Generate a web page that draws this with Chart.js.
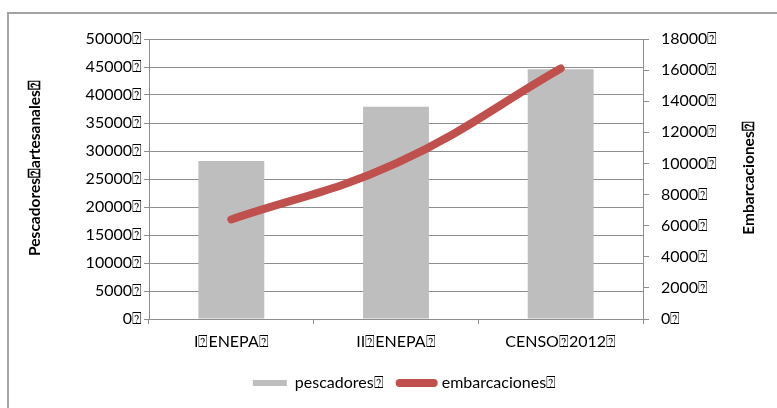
<!DOCTYPE html>
<html>
<head>
<meta charset="utf-8">
<script src="https://cdn.jsdelivr.net/npm/chart.js@4.4.1/dist/chart.umd.min.js"></script>
<style>
  body { margin: 0; background: #fff; overflow: hidden; }
  .wrap { position: relative; width: 777px; height: 408px; }
  .frame { position: absolute; left: 7px; top: 12px; width: 900px; height: 600px; border-top: 2px solid #a3a3a3; border-left: 2px solid #a3a3a3; }
  #chart_pesca { position: absolute; left: 0; top: 0; }
</style>
</head>
<body>
<div class="wrap">
  <div class="frame"></div>
  <canvas id="chart_pesca" width="777" height="408"></canvas>
</div>
<script>
const Q = '\u2370'
const categories = ['I' + Q + 'ENEPA' + Q, 'II' + Q + 'ENEPA' + Q, 'CENSO' + Q + '2012' + Q]
const pescadores = [28200, 37900, 44600]
const embarcaciones = [6400, 10000, 16100]
const leftTicks = [0, 5000, 10000, 15000, 20000, 25000, 30000, 35000, 40000, 45000, 50000]
const rightTicks = [0, 2000, 4000, 6000, 8000, 10000, 12000, 14000, 16000, 18000]
const leftTitle = 'Pescadores' + Q + 'artesanales' + Q
const rightTitle = 'Embarcaciones' + Q

const gridColor = '#8e8e8e'
const barColor = '#bebebe'
const lineColor = '#c0504d'

Chart.defaults.font.family = 'Lato'
Chart.defaults.color = '#000'

// both axis titles read bottom to top, chart.js flips the right one so draw them here
const axisTitles = {
  id: 'axisTitles',
  afterDraw: (chart) => {
    const c = chart.ctx
    const area = chart.chartArea
    const draw = (text, x, y) => {
      c.save()
      c.translate(x, y)
      c.rotate(-Math.PI / 2)
      c.font = 'bold 15.5px Lato'
      c.fillStyle = '#000'
      c.textAlign = 'center'
      c.textBaseline = 'middle'
      c.fillText(text, 0, 0)
      c.restore()
    }
    draw(leftTitle, area.left - 114, area.top + 129)
    draw(rightTitle, chart.scales.y1.right - 28, area.top + 139)
  }
}

const ctx = document.getElementById('chart_pesca')
new Chart(ctx, {
  type: 'bar',
  data: {
    labels: categories,
    datasets: [
      {
        type: 'line',
        label: 'embarcaciones' + Q,
        data: embarcaciones,
        yAxisID: 'y1',
        borderColor: lineColor,
        borderWidth: 8,
        borderCapStyle: 'round',
        tension: 0.4,
        pointRadius: 0,
        fill: false,
        order: 0
      },
      {
        label: 'pescadores' + Q,
        data: pescadores,
        yAxisID: 'y',
        backgroundColor: barColor,
        barPercentage: 0.4,
        categoryPercentage: 1,
        order: 1
      }
    ]
  },
  options: {
    responsive: false,
    animation: false,
    layout: { padding: { left: 32, right: 0, top: 39, bottom: 7 } },
    plugins: {
      tooltip: { enabled: false },
      legend: {
        position: 'bottom',
        labels: {
          font: { size: 16 },
          usePointStyle: true,
          boxHeight: 6,
          pointStyleWidth: 34,
          padding: 16,
          generateLabels: () => [
            { text: 'pescadores' + Q, fillStyle: barColor, strokeStyle: barColor, lineWidth: 0, pointStyle: 'rect', datasetIndex: 1 },
            { text: 'embarcaciones' + Q, fillStyle: lineColor, strokeStyle: lineColor, lineWidth: 8, lineCap: 'round', pointStyle: 'line', datasetIndex: 0 }
          ]
        }
      }
    },
    scales: {
      x: {
        grid: { drawOnChartArea: false, color: gridColor, tickLength: 5 },
        border: { color: gridColor },
        ticks: { font: { size: 16 }, padding: 8 },
        afterFit: (scale) => { scale.height = 40 }
      },
      y: {
        position: 'left',
        min: 0,
        max: 50000,
        afterBuildTicks: (scale) => { scale.ticks = leftTicks.map(v => ({ value: v })) },
        grid: { color: gridColor, tickLength: 5 },
        border: { color: gridColor },
        ticks: { font: { size: 16 }, padding: 2, callback: (v) => v + Q },
        afterFit: (scale) => { scale.width = 117 }
      },
      y1: {
        position: 'right',
        min: 0,
        max: 18000,
        afterBuildTicks: (scale) => { scale.ticks = rightTicks.map(v => ({ value: v })) },
        grid: { drawOnChartArea: false, color: gridColor, tickLength: 6 },
        border: { color: gridColor },
        ticks: { font: { size: 16 }, padding: 12, callback: (v) => v + Q },
        afterFit: (scale) => { scale.width = 134 }
      }
    }
  },
  plugins: [axisTitles]
})
</script>
</body>
</html>
